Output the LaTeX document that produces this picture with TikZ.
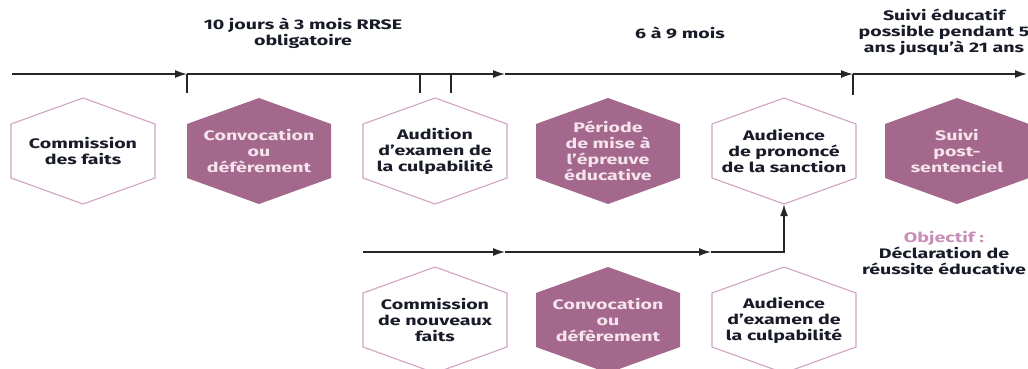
\documentclass[tikz,border=0pt]{standalone}
\usepackage{fontspec}
\setmainfont{Fira Sans}[FakeStretch=1.42]
\usetikzlibrary{arrows.meta}
\definecolor{hexpurple}{HTML}{A4688C}
\definecolor{hexline}{HTML}{CFA3C4}
\definecolor{lighttext}{HTML}{F5E4EE}
\definecolor{darktext}{HTML}{181B28}
\definecolor{objcol}{HTML}{C98DB8}
\definecolor{linecol}{HTML}{262626}
\tikzset{
  txtfont/.style={font=\bfseries\fontsize{13.8}{16}\selectfont},
  hexbox/.style={inner sep=0pt, minimum width=144pt, minimum height=106pt, align=center, txtfont},
  hexwhite/.style={hexbox, text=darktext},
  hexfull/.style={hexbox, text=lighttext},
  hexwhiteshape/.style={draw=hexline, line width=1.1pt, fill=white},
  hexfullshape/.style={fill=hexpurple},
  timeline/.style={draw=linecol, line width=1.5pt, -{Latex[length=12pt,width=8pt]}},
  ticksty/.style={draw=linecol, line width=1.7pt},
  headlabel/.style={align=center, txtfont, text=darktext, inner sep=0pt}
}
\newcommand\hexpath[3]{%
  \path[#3] (#1-72,#2-27) -- (#1,#2-53) -- (#1+72,#2-27) -- (#1+72,#2+27)
    -- (#1,#2+53) -- (#1-72,#2+27) -- cycle;}
\begin{document}
\begin{tikzpicture}[x=1pt,y=-1pt]
\clip (0,0) rectangle (1028,369);
\fill[white] (0,0) rectangle (1028,369);

% hexagon shapes
\hexpath{83}{151}{hexwhiteshape}
\hexpath{259}{151}{hexfullshape}
\hexpath{435}{151}{hexwhiteshape}
\hexpath{608}{151}{hexfullshape}
\hexpath{784}{151}{hexwhiteshape}
\hexpath{957}{151}{hexfullshape}
\hexpath{435}{320}{hexwhiteshape}
\hexpath{608}{320}{hexfullshape}
\hexpath{784}{320}{hexwhiteshape}

% hexagon nodes
\node[hexwhite] (a1) at (83,151) {Commission\\des faits};
\node[hexfull]  (a2) at (259,151) {Convocation\\ou\\défèrement};
\node[hexwhite] (a3) at (435,151) {Audition\\d’examen de\\la culpabilité};
\node[hexfull]  (a4) at (608,151) {Période\\de mise à\\l’épreuve\\éducative};
\node[hexwhite] (a5) at (784,151) {Audience\\de prononcé\\de la sanction};
\node[hexfull]  (a6) at (957,151) {Suivi\\post-\\sentenciel};
\node[hexwhite] (b1) at (435,320) {Commission\\de nouveaux\\faits};
\node[hexfull]  (b2) at (608,320) {Convocation\\ou\\défèrement};
\node[hexwhite] (b3) at (784,320) {Audience\\d’examen de\\la culpabilité};

% headings
\node[headlabel] (h1) at (303,33) {10 jours à 3 mois RRSE\\obligatoire};
\node[headlabel] (h2) at (680,33) {6 à 9 mois};
\node[headlabel] (h3) at (944,32) {Suivi éducatif\\possible pendant 5\\ans jusqu’à 21 ans};
\node[headlabel] (obj) at (944,253) {\textcolor{objcol}{Objectif :}\\Déclaration de\\réussite éducative};

% top timeline
\coordinate (l0) at (12,74);
\coordinate (l1) at (187,74);
\coordinate (l2) at (505,74);
\coordinate (l3) at (853,74);
\coordinate (l4) at (1027,74);
\draw[timeline] (l0) -- (l1);
\draw[timeline] (l1) -- (l2);
\draw[timeline] (l2) -- (l3);
\draw[timeline] (l3) -- (l4);

% ticks
\coordinate (k1a) at (187,74); \coordinate (k1b) at (187,93);
\coordinate (k2a) at (420,74); \coordinate (k2b) at (420,93);
\coordinate (k3a) at (451,74); \coordinate (k3b) at (451,93);
\coordinate (k4a) at (853,74); \coordinate (k4b) at (853,95);
\draw[ticksty] (k1a) -- (k1b);
\draw[ticksty] (k2a) -- (k2b);
\draw[ticksty] (k3a) -- (k3b);
\draw[ticksty] (k4a) -- (k4b);

% bottom line
\coordinate (m0) at (363,252);
\coordinate (m1) at (505,252);
\coordinate (m2) at (711,252);
\draw[timeline] (m0) -- (m1);
\draw[timeline] (m1) -- (m2);
\draw[timeline] (m2) -- (m2 -| a5.south) -- (a5.south);
\end{tikzpicture}
\end{document}
